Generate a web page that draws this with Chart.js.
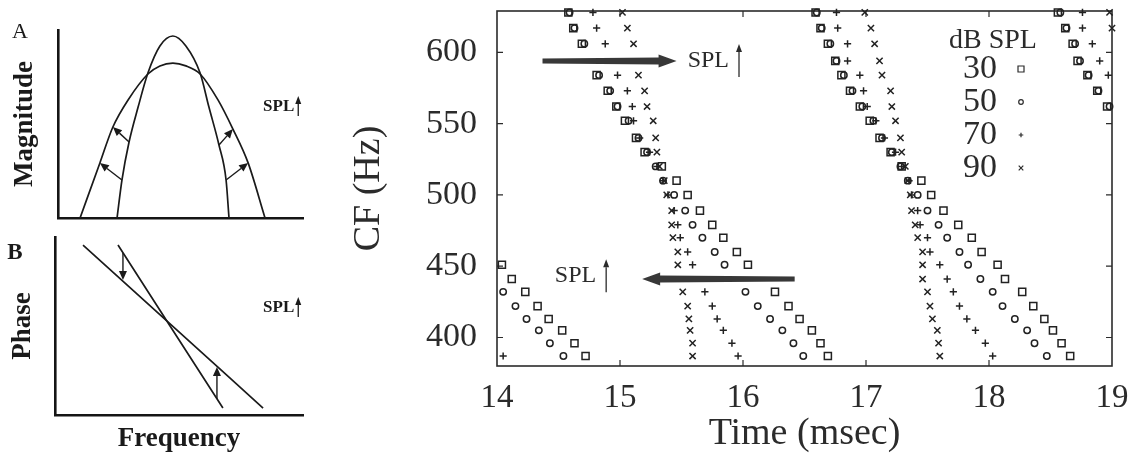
<!DOCTYPE html>
<html>
<head>
<meta charset="utf-8">
<script src="https://cdn.jsdelivr.net/npm/chart.js@4.4.1/dist/chart.umd.min.js"></script>
<style>
  html, body { margin: 0; padding: 0; background: #fff; }
  #wrap { position: relative; width: 1141px; height: 457px; overflow: hidden; background: #fff; }
  .box { position: absolute; }
</style>
</head>
<body>
<div id="wrap">
  <div class="box" style="left:0;top:0;width:330px;height:222px"><canvas id="chart-a"></canvas></div>
  <div class="box" style="left:0;top:222px;width:330px;height:235px"><canvas id="chart-b"></canvas></div>
  <div class="box" style="left:330px;top:0;width:811px;height:457px"><canvas id="chart-main"></canvas></div>
</div>
<script>
// --- Panel A: magnitude curves (frequency / magnitude, arbitrary 0-100 units) ---
const NARROW_F   = [24.1, 26.1, 29.0, 32.7, 36.7, 41.6, 46.9, 52.2, 58.0, 61.6, 65.7, 68.6, 69.8];
const NARROW_MAG = [0, 20.2, 40.4, 59.0, 77.1, 91.5, 96.8, 91.5, 77.1, 59.0, 38.8, 20.2, 0];
const WIDE_F     = [9.0, 17.1, 22.4, 28.6, 36.7, 41.6, 46.9, 52.2, 58.0, 65.3, 71.4, 77.6, 84.5];
const WIDE_MAG   = [0, 29.3, 48.4, 62.8, 76.6, 80.9, 82.4, 80.9, 76.6, 62.8, 47.3, 29.3, 0];
// arrows narrow -> wide  [f0, m0, f1, m1]
const A_ARROWS = [[29.0, 40.4, 22.4, 48.4], [26.1, 20.2, 17.1, 29.3], [65.7, 38.8, 71.4, 47.3], [68.6, 20.2, 77.6, 29.3]];

// --- Panel B: phase lines ---
const SHALLOW_F  = [11.3, 83.9];
const SHALLOW_PH = [95.5, 3.9];
const STEEP_F    = [25.4, 67.7];
const STEEP_PH   = [95.5, 3.9];
const B_ARROWS = [[27.4, 91.0, 27.4, 75.8], [65.3, 9.0, 65.3, 27.0]];

// --- Main panel: CF rows (Hz) and peak times (msec) per level and stripe ---
const CF_ROWS = [628, 617, 606, 594, 584, 573, 562, 552, 540, 530, 520, 510, 500, 489, 479, 470, 460, 451, 441, 432, 422, 413, 405, 396, 387];
const X_TICKS = [14, 15, 16, 17, 18, 19];
const Y_TICKS = [400, 450, 500, 550, 600];
const LEVELS = ['30', '50', '70', '90'];

// leftmost stripe (cut off by the axis), first row index given separately
const T30_A = [14.04, 14.12, 14.23, 14.33, 14.42, 14.53, 14.63, 14.72]; // from row 17
const T50_A = [14.05, 14.15, 14.24, 14.34, 14.43, 14.54];               // from row 19
const T70_A = [14.05];                                                   // from row 24

const T30_B = [14.58, 14.62, 14.69, null, 14.81, 14.90, 14.97, 15.04, 15.13, 15.20, 15.34, 15.46, 15.55, 15.65, 15.75, 15.84, 15.95, 16.04, null, 16.26, 16.37, 16.46, 16.56, 16.63, 16.69];
const T50_B = [14.59, 14.63, 14.71, null, 14.83, 14.92, 14.98, 15.07, 15.15, 15.22, 15.29, 15.35, 15.44, 15.53, 15.59, 15.67, 15.77, 15.85, null, 16.02, 16.12, 16.22, 16.32, 16.41, 16.49];
const T70_B = [14.78, 14.81, 14.88, null, 14.98, 15.06, 15.10, 15.11, 15.16, 15.24, 15.30, 15.35, 15.39, 15.44, 15.47, 15.49, 15.55, 15.59, null, 15.69, 15.75, 15.79, 15.84, 15.91, 15.96];
const T90_B = [15.02, 15.06, 15.11, null, 15.15, 15.20, 15.22, 15.27, 15.29, 15.30, 15.32, 15.36, 15.38, 15.42, 15.42, 15.43, 15.47, 15.47, null, 15.51, 15.55, 15.56, 15.57, 15.59, 15.59];

const T30_C = [16.59, 16.63, 16.69, 16.75, 16.80, 16.87, 16.95, 17.03, 17.11, 17.20, 17.29, 17.45, 17.53, 17.63, 17.75, 17.86, 17.94, 18.07, 18.13, 18.27, 18.36, 18.45, 18.52, 18.59, 18.66];
const T50_C = [16.60, 16.64, 16.71, 16.76, 16.82, 16.89, 16.97, 17.06, 17.13, 17.21, 17.28, 17.34, 17.42, 17.50, 17.59, 17.66, 17.76, 17.83, 17.93, 18.03, 18.11, 18.21, 18.31, 18.37, 18.47];
const T70_C = [16.76, 16.77, 16.85, 16.85, 16.95, 16.98, 17.01, 17.08, 17.15, 17.24, 17.29, 17.35, 17.37, 17.42, 17.44, 17.50, 17.52, 17.60, 17.66, 17.71, 17.76, 17.82, 17.89, 17.97, 18.03];
const T90_C = [16.99, 17.04, 17.07, 17.11, 17.13, 17.20, 17.21, 17.24, 17.28, 17.29, 17.32, 17.34, 17.36, 17.37, 17.40, 17.42, 17.46, 17.46, 17.46, 17.50, 17.52, 17.54, 17.58, 17.59, 17.60];

// top-right stripe, from row 0
const T30_D = [18.56, 18.62, 18.68, 18.72, 18.80, 18.88, 18.96];
const T50_D = [18.58, 18.63, 18.70, 18.74, 18.81, 18.89, 18.98];
const T70_D = [18.76, 18.76, 18.84, 18.90, 18.97];
const T90_D = [18.98, 19.0];

// annotation arrows: SPL increasing direction
const BIG_ARROWS = [{ from: 14.37, to: 15.46, cf: 594 }, { from: 16.42, to: 15.18, cf: 441 }];
const SPL_MARKS = [{ t: 15.55, cf: 594 }, { t: 14.47, cf: 443 }];

const SERIF = '"Liberation Serif", "Times New Roman", serif';
const INK = '#2b2b2b';

function rowPoints(times, firstRow = 0) {
    return times.map((t, i) => t == null ? null : { x: t, y: CF_ROWS[firstRow + i] }).filter(Boolean);
}
function pairs(xs, ys) { return xs.map((v, i) => ({ x: v, y: ys[i] })); }

function thinArrow(ctx, x0, y0, x1, y1, head = 8, half = 3.5) {
    const ang = Math.atan2(y1 - y0, x1 - x0);
    const bx = x1 - Math.cos(ang) * head, by = y1 - Math.sin(ang) * head;
    ctx.beginPath();
    ctx.moveTo(x0, y0); ctx.lineTo(bx, by); ctx.stroke();
    ctx.beginPath();
    ctx.moveTo(x1, y1);
    ctx.lineTo(bx + Math.sin(ang) * half, by - Math.cos(ang) * half);
    ctx.lineTo(bx - Math.sin(ang) * half, by + Math.cos(ang) * half);
    ctx.closePath(); ctx.fill();
}

function blockArrow(ctx, xFrom, xTo, yy) {
    const dir = Math.sign(xTo - xFrom);
    const head = 18, halfHead = 6.5, halfShaft = 3.5;
    const base = xTo - dir * head;
    ctx.beginPath();
    ctx.moveTo(xFrom, yy - halfShaft + 1);
    ctx.lineTo(base, yy - halfShaft);
    ctx.lineTo(base, yy - halfHead);
    ctx.lineTo(xTo, yy);
    ctx.lineTo(base, yy + halfHead);
    ctx.lineTo(base, yy + halfShaft);
    ctx.lineTo(xFrom, yy + halfShaft - 1);
    ctx.closePath(); ctx.fill();
}

function marker(ctx, style, x, y, r) {
    ctx.beginPath();
    if (style === 'rect') ctx.rect(x - r, y - r, 2 * r, 2 * r);
    else if (style === 'circle') ctx.arc(x, y, r, 0, Math.PI * 2);
    else if (style === 'cross') { ctx.moveTo(x - r, y); ctx.lineTo(x + r, y); ctx.moveTo(x, y - r); ctx.lineTo(x, y + r); }
    else { ctx.moveTo(x - r, y - r); ctx.lineTo(x + r, y + r); ctx.moveTo(x - r, y + r); ctx.lineTo(x + r, y - r); }
    ctx.stroke();
}

function splLabel(ctx, x, y, font, gap, up, down) {
    ctx.font = font;
    ctx.textAlign = 'left'; ctx.textBaseline = 'middle';
    ctx.fillText('SPL', x, y);
    const ax = x + ctx.measureText('SPL').width + gap;
    ctx.lineWidth = 1.3;
    thinArrow(ctx, ax, y + down, ax, y - up, 8, 3);
}

// --- small schematic panels ---
function panelDecor(letter, letterFont, letterDx, letterDy, arrows, spl) {
    return {
        id: 'panelDecor',
        afterDatasetsDraw(chart) {
            const { ctx, chartArea: a, scales: { x, y } } = chart;
            ctx.save();
            ctx.fillStyle = '#1a1a1a'; ctx.strokeStyle = '#1a1a1a';
            ctx.lineWidth = 1.4;
            arrows.forEach(([f0, m0, f1, m1]) => {
                thinArrow(ctx, x.getPixelForValue(f0), y.getPixelForValue(m0),
                               x.getPixelForValue(f1), y.getPixelForValue(m1), 9, 4);
            });
            splLabel(ctx, x.getPixelForValue(spl[0]), y.getPixelForValue(spl[1]),
                     'bold 17px ' + SERIF, 4, 11, 9);
            ctx.font = letterFont;
            ctx.textAlign = 'center'; ctx.textBaseline = 'middle';
            ctx.fillText(letter, a.left + letterDx, a.top + letterDy);
            ctx.restore();
        }
    };
}

function smallPanel(id, lines, opts) {
    return new Chart(document.getElementById(id), {
        type: 'line',
        data: {
            datasets: lines.map(l => ({
                data: l, borderColor: '#1a1a1a', borderWidth: 1.7, pointRadius: 0,
                cubicInterpolationMode: 'monotone', fill: false
            }))
        },
        options: {
            responsive: true, maintainAspectRatio: false, animation: false,
            devicePixelRatio: 1,
            layout: { padding: { top: opts.top, right: 27, left: 0, bottom: 0 } },
            plugins: { legend: { display: false }, tooltip: { enabled: false } },
            scales: {
                x: {
                    type: 'linear', min: 0, max: 100,
                    grid: { display: false }, ticks: { display: false },
                    border: { display: true, width: 2.6, color: '#151515' },
                    afterFit: s => { s.height = opts.xHeight; },
                    title: opts.xTitle ? {
                        display: true, text: opts.xTitle, color: '#1a1a1a', padding: { top: 0, bottom: 2 },
                        font: { family: SERIF, size: 27, weight: 'bold', lineHeight: 1.2 }
                    } : { display: false }
                },
                y: {
                    type: 'linear', min: 0, max: 100,
                    grid: { display: false }, ticks: { display: false },
                    border: { display: true, width: 2.6, color: '#151515' },
                    afterFit: s => { s.width = opts.yWidth; },
                    title: {
                        display: true, text: opts.yTitle, color: '#1a1a1a', padding: { top: opts.yTitlePad, bottom: 0 },
                        font: { family: SERIF, size: 27, weight: 'bold', lineHeight: 1.2 }
                    }
                }
            }
        },
        plugins: [opts.decor]
    });
}

smallPanel('chart-a', [pairs(NARROW_F, NARROW_MAG), pairs(WIDE_F, WIDE_MAG)], {
    top: 30, xHeight: 4, yWidth: 58, yTitle: 'Magnitude', yTitlePad: 9,
    decor: panelDecor('A', '22px ' + SERIF, -38, 2, A_ARROWS, [83.7, 59])
});

smallPanel('chart-b', [pairs(SHALLOW_F, SHALLOW_PH), pairs(STEEP_F, STEEP_PH)], {
    top: 15, xHeight: 42, yWidth: 55, yTitle: 'Phase', yTitlePad: 7, xTitle: 'Frequency',
    decor: panelDecor('B', 'bold 23px ' + SERIF, -40, 16, B_ARROWS, [83.9, 60.1])
});

// --- main CF vs time panel ---
const MARKERS = ['rect', 'circle', 'cross', 'crossRot'];
const RADII = [5, 3.2, 3.6, 4.4];
const seriesPoints = [
    [...rowPoints(T30_A, 17), ...rowPoints(T30_B), ...rowPoints(T30_C), ...rowPoints(T30_D)],
    [...rowPoints(T50_A, 19), ...rowPoints(T50_B), ...rowPoints(T50_C), ...rowPoints(T50_D)],
    [...rowPoints(T70_A, 24), ...rowPoints(T70_B), ...rowPoints(T70_C), ...rowPoints(T70_D)],
    [...rowPoints(T90_B), ...rowPoints(T90_C), ...rowPoints(T90_D)]
];

const mainDecor = {
    id: 'mainDecor',
    beforeDatasetsDraw(chart) {
        const { ctx, chartArea: a, scales: { x, y } } = chart;
        ctx.save();
        ctx.strokeStyle = INK; ctx.lineWidth = 1.6;
        ctx.strokeRect(a.left, a.top, a.right - a.left, a.bottom - a.top);
        ctx.lineWidth = 1.2;
        ctx.beginPath();
        X_TICKS.slice(1, -1).forEach(v => {
            const px = x.getPixelForValue(v);
            ctx.moveTo(px, a.bottom); ctx.lineTo(px, a.bottom - 6);
            ctx.moveTo(px, a.top); ctx.lineTo(px, a.top + 6);
        });
        Y_TICKS.forEach(v => {
            const py = y.getPixelForValue(v);
            ctx.moveTo(a.left, py); ctx.lineTo(a.left + 6, py);
            ctx.moveTo(a.right, py); ctx.lineTo(a.right - 6, py);
        });
        ctx.stroke();
        ctx.restore();
    },
    afterDatasetsDraw(chart) {
        const { ctx, chartArea: a, scales: { x, y } } = chart;
        ctx.save();
        // thick SPL arrows
        ctx.fillStyle = '#383838';
        BIG_ARROWS.forEach(r => blockArrow(ctx, x.getPixelForValue(r.from), x.getPixelForValue(r.to), y.getPixelForValue(r.cf)));
        // "SPL ↑" labels
        ctx.fillStyle = INK; ctx.strokeStyle = INK;
        SPL_MARKS.forEach(m => splLabel(ctx, x.getPixelForValue(m.t), y.getPixelForValue(m.cf), '24px ' + SERIF, 10, 17, 16));
        // legend block
        ctx.fillStyle = INK;
        ctx.textAlign = 'center'; ctx.textBaseline = 'middle';
        ctx.font = '28px ' + SERIF;
        ctx.fillText('dB SPL', a.right - 119, a.top + 30);
        ctx.font = '34px ' + SERIF;
        ctx.lineWidth = 1.2;
        LEVELS.forEach((lv, i) => {
            const ly = a.top + 58 + i * 33;
            ctx.fillText(lv, a.right - 132, ly);
            marker(ctx, MARKERS[i], a.right - 91, ly, i === 0 ? 3 : 2.3);
        });
        ctx.restore();
    }
};

new Chart(document.getElementById('chart-main'), {
    type: 'scatter',
    data: {
        datasets: LEVELS.map((lv, i) => ({
            label: lv + ' dB SPL',
            data: seriesPoints[i],
            pointStyle: MARKERS[i],
            pointRadius: RADII[i],
            borderColor: '#222',
            backgroundColor: 'rgba(0,0,0,0)',
            pointBorderWidth: 1.5,
            clip: false
        }))
    },
    options: {
        responsive: true, maintainAspectRatio: false, animation: false,
        devicePixelRatio: 1,
        layout: { padding: { top: 11, right: 29, bottom: 0, left: 0 } },
        plugins: { legend: { display: false }, tooltip: { enabled: false } },
        scales: {
            x: {
                type: 'linear', min: 14, max: 19,
                afterBuildTicks: s => { s.ticks = X_TICKS.map(v => ({ value: v })); },
                afterFit: s => { s.height = 91; s.paddingLeft = 0; s.paddingRight = 0; },
                grid: { display: false, drawTicks: false }, border: { display: false },
                ticks: { padding: 13, color: INK, font: { family: SERIF, size: 33 } },
                title: {
                    display: true, text: 'Time (msec)', color: INK, padding: 0,
                    font: { family: SERIF, size: 38, lineHeight: 1.2 }
                }
            },
            y: {
                type: 'linear', min: 380, max: 629,
                afterBuildTicks: s => { s.ticks = Y_TICKS.map(v => ({ value: v })); },
                afterFit: s => { s.width = 167; s.paddingTop = 0; s.paddingBottom = 0; },
                grid: { display: false, drawTicks: false }, border: { display: false },
                ticks: { padding: 20, color: INK, font: { family: SERIF, size: 34 } },
                title: {
                    display: true, text: 'CF (Hz)', color: INK, padding: { top: 16, bottom: 0 },
                    font: { family: SERIF, size: 38, lineHeight: 1.2 }
                }
            }
        }
    },
    plugins: [mainDecor]
});
</script>
</body>
</html>
